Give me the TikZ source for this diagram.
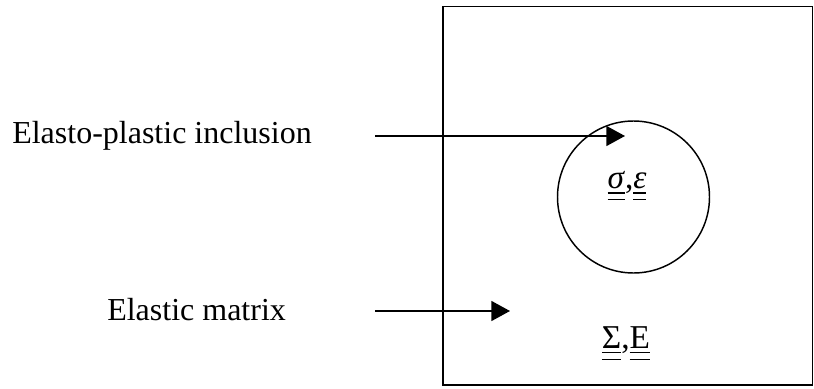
\documentclass[tikz,border=0pt]{standalone}
\usepackage{amsmath}
\usepackage{fontspec}
\setmainfont{Liberation Serif}
\usetikzlibrary{positioning, arrows.meta}
\newcommand{\tens}[1]{\underline{\underline{#1}}}

\begin{document}
\begin{tikzpicture}[
  x=0.75pt, y=-0.75pt,
  >={Triangle[length=14pt, width=15pt]},
  font=\fontsize{24}{28}\selectfont,
  lbl/.style={anchor=base west, inner sep=0pt},
  pointer/.style={->, line width=1.1pt},
  qty/.style={anchor=base, inner sep=0pt, font=\fontsize{25}{29}\selectfont}
]
  \useasboundingbox (0,0) rectangle (814,389);

  % Matrix block and inclusion
  \draw[line width=1.2pt] (443,6.5) rectangle (812.5,385);
  \node[draw, circle, line width=1.1pt, minimum size=152*0.75pt, inner sep=0pt] (incl) at (633.5,197) {};

  % Field quantities
  \node[qty] (local) at (627,188) {\tens{\textit{σ}},\tens{\textit{ε}}};
  \node[qty] (macro) at (626,348) {\tens{Σ},\tens{E}};

  % Labels on the left
  \node[lbl] (lbincl) at (12,143) {Elasto-plastic inclusion};
  \node[lbl] (lbmat) at (107,320) {Elastic matrix};

  % Pointers
  \coordinate (s1) at (375,136);
  \coordinate (e1) at (625,136);
  \coordinate (s2) at (375,311);
  \coordinate (e2) at (510,311);
  \draw[pointer] (s1) -- (e1);
  \draw[pointer] (s2) -- (e2);
\end{tikzpicture}
\end{document}
